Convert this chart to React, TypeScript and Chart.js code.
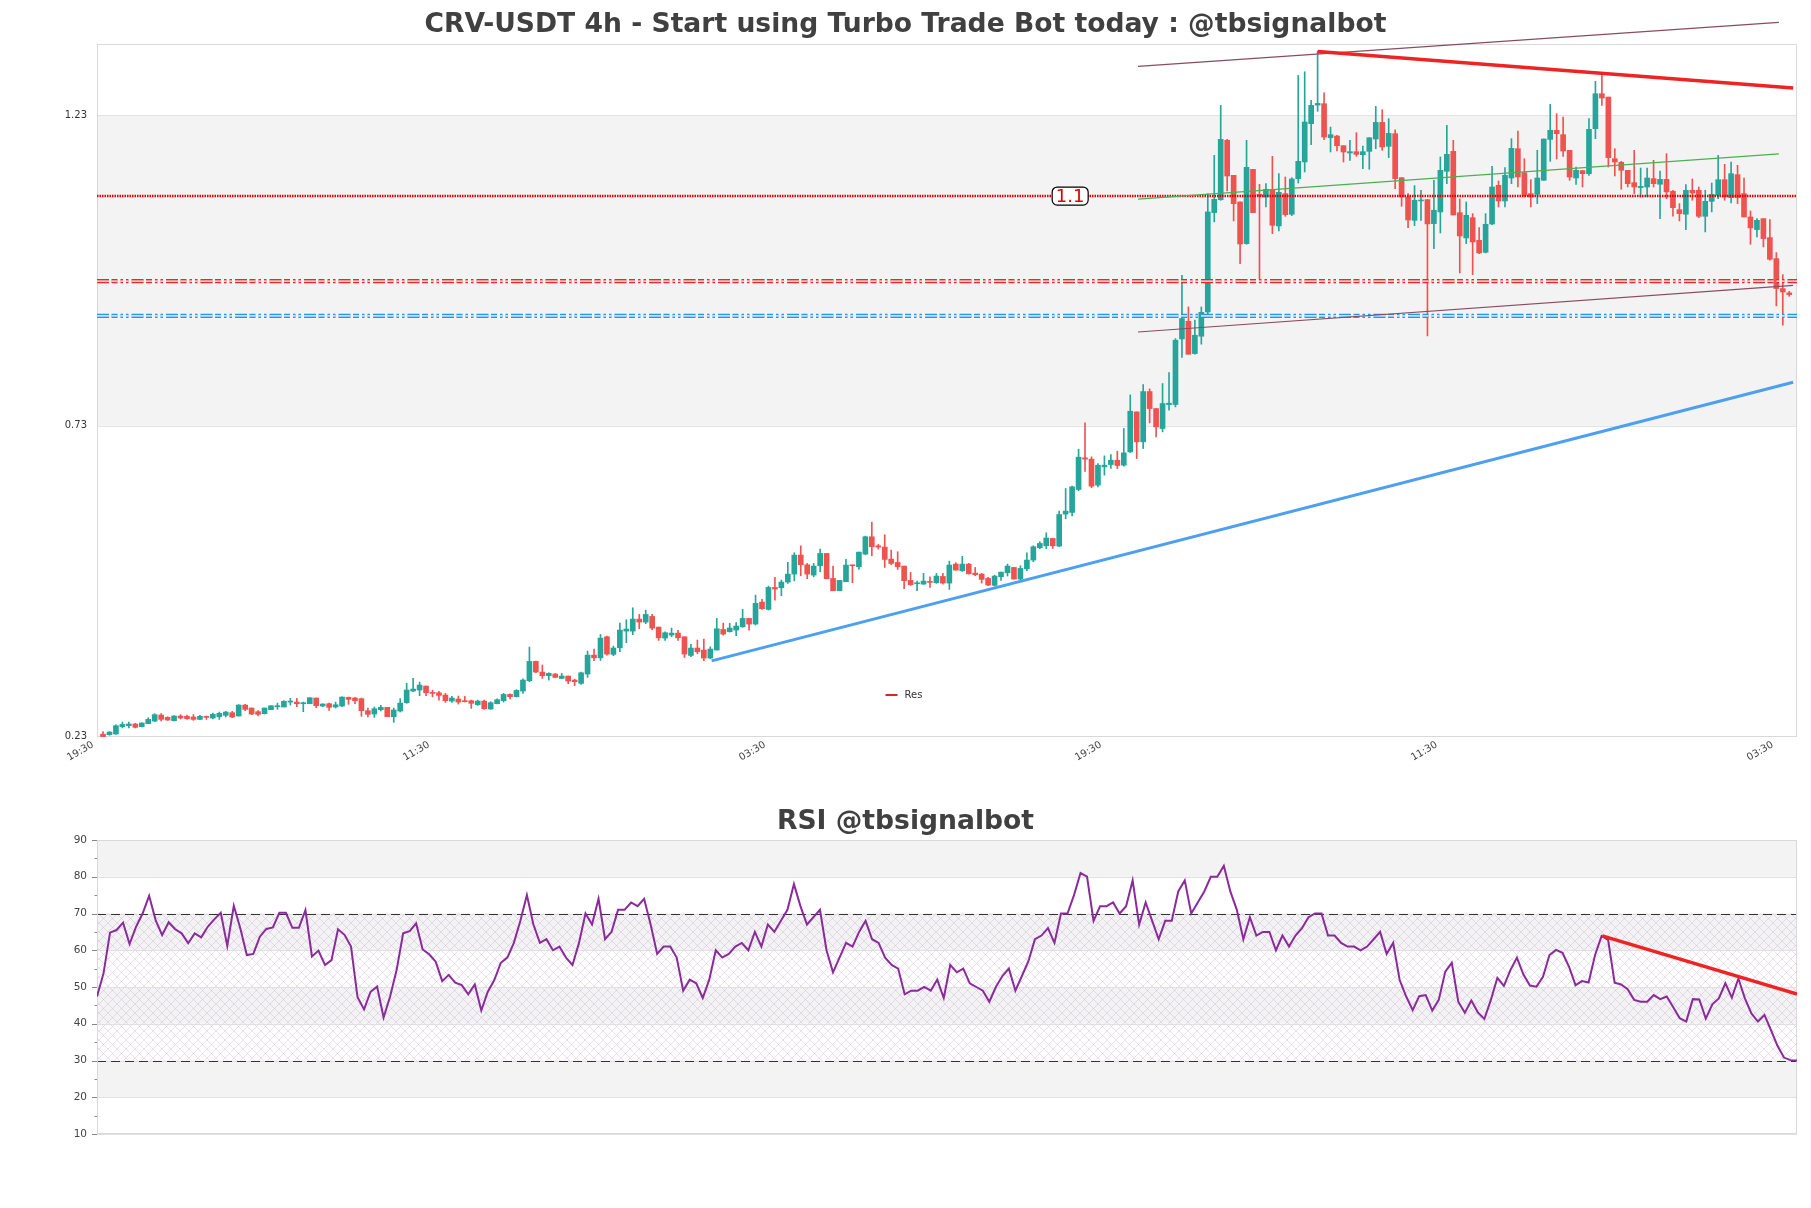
import React, { useEffect, useRef } from 'react';
import { Chart, registerables } from 'chart.js';

Chart.register(...registerables);

const UP = '#26a69a';
const DOWN = '#ef5350';
const FONT = '"DejaVu Sans", sans-serif';

const mainTitle = 'CRV-USDT 4h - Start using Turbo Trade Bot today : @tbsignalbot';
const rsiTitle = 'RSI @tbsignalbot';
const timeLabels = ['19:30', '11:30', '03:30', '19:30', '11:30', '03:30'];
const priceTicks = [0.23, 0.73, 1.23];
const rsiTicks = [10, 20, 30, 40, 50, 60, 70, 80, 90];

const opens = [
  0.233, 0.2322, 0.2332, 0.245, 0.2466, 0.2493, 0.245, 0.2499, 0.2541, 0.2638,
  0.26, 0.2547, 0.2622, 0.2617, 0.2606, 0.2568, 0.2611, 0.259, 0.2611, 0.2633,
  0.2676, 0.2622, 0.2799, 0.2751, 0.2692, 0.266, 0.2724, 0.2772, 0.2767, 0.2847,
  0.2847, 0.282, 0.282, 0.2912, 0.2783, 0.2821, 0.2767, 0.2783, 0.2923, 0.2912,
  0.2901, 0.2708, 0.2654, 0.2724, 0.2762, 0.2611, 0.2702, 0.2837, 0.3025, 0.3041,
  0.3105, 0.3003, 0.2997, 0.296, 0.2863, 0.2896, 0.2869, 0.2869, 0.2804, 0.2863,
  0.2735, 0.2821, 0.2869, 0.297, 0.2933, 0.3024, 0.3191, 0.3502, 0.333, 0.3271,
  0.3298, 0.3228, 0.3266, 0.3201, 0.3148, 0.3298, 0.3604, 0.356, 0.3899, 0.3615,
  0.3722, 0.399, 0.399, 0.4184, 0.4135, 0.4227, 0.4055, 0.3878, 0.3926, 0.3958,
  0.3899, 0.3598, 0.3717, 0.3685, 0.3556, 0.3685, 0.4017, 0.398, 0.4007, 0.4061,
  0.4195, 0.4104, 0.4458, 0.434, 0.4694, 0.4689, 0.478, 0.4909, 0.5215, 0.5059,
  0.4893, 0.5043, 0.5242, 0.4839, 0.464, 0.4785, 0.5054, 0.5027, 0.5231, 0.551,
  0.5365, 0.5344, 0.515, 0.5097, 0.5038, 0.4807, 0.4753, 0.4748, 0.4791, 0.4769,
  0.4871, 0.4764, 0.507, 0.4963, 0.507, 0.4925, 0.4909, 0.4839, 0.4727, 0.4866,
  0.493, 0.5016, 0.4829, 0.4995, 0.5135, 0.5333, 0.5365, 0.5483, 0.536, 0.5875,
  0.5902, 0.6272, 0.6782, 0.6761, 0.6342, 0.6637, 0.6674, 0.6744, 0.6664, 0.6878,
  0.7522, 0.704, 0.785, 0.7576, 0.7254, 0.764, 0.7641, 0.8698, 0.8983, 0.8462,
  0.8741, 0.9132, 1.0733, 1.0942, 1.1898, 1.1334, 1.0905, 1.0234, 1.143, 1.1028,
  1.0985, 1.1104, 1.0518, 1.1039, 1.0706, 1.128, 1.155, 1.2166, 1.2466, 1.2488,
  1.194, 1.1967, 1.1812, 1.1694, 1.1715, 1.1667, 1.172, 1.1919, 1.2187, 1.1801,
  1.2005, 1.1296, 1.0985, 1.0609, 1.0921, 1.0943, 1.0556, 1.0744, 1.1399, 1.172,
  1.0733, 1.0325, 1.0652, 1.0287, 1.0094, 1.055, 1.1173, 1.0921, 1.1291, 1.1763,
  1.1377, 1.1039, 1.1028, 1.1254, 1.1913, 1.2059, 1.1989, 1.1737, 1.1291, 1.141,
  1.1361, 1.2086, 1.2649, 1.2595, 1.1602, 1.1543, 1.1415, 1.1216, 1.1136, 1.1146,
  1.128, 1.119, 1.1269, 1.1077, 1.0781, 1.0706, 1.1093, 1.1093, 1.0674, 1.0915,
  1.1012, 1.1264, 1.0974, 1.1345, 1.1039, 1.0663, 1.0459, 1.0636, 1.033, 0.9992,
  0.9509, 0.944,
];

const closes = [
  0.229, 0.2364, 0.2466, 0.2487, 0.2493, 0.244, 0.2509, 0.2568, 0.2644, 0.2568,
  0.2557, 0.2622, 0.259, 0.2579, 0.2568, 0.2617, 0.2601, 0.2649, 0.2665, 0.2686,
  0.2606, 0.2799, 0.2729, 0.2654, 0.2649, 0.2751, 0.2788, 0.2788, 0.2858, 0.2858,
  0.282, 0.2837, 0.2917, 0.2788, 0.2815, 0.2762, 0.2804, 0.2928, 0.289, 0.2869,
  0.2708, 0.2649, 0.274, 0.2762, 0.2611, 0.2719, 0.2831, 0.3041, 0.3057, 0.3121,
  0.2997, 0.2987, 0.2954, 0.2869, 0.2912, 0.2847, 0.2853, 0.2826, 0.2863, 0.274,
  0.2837, 0.2885, 0.297, 0.2933, 0.3035, 0.3201, 0.3502, 0.333, 0.3271, 0.3309,
  0.3244, 0.3266, 0.3185, 0.3175, 0.3319, 0.3604, 0.356, 0.3878, 0.362, 0.3717,
  0.4007, 0.4023, 0.4184, 0.4135, 0.4259, 0.4039, 0.3883, 0.3964, 0.3958, 0.3883,
  0.362, 0.3717, 0.3658, 0.3556, 0.3701, 0.4028, 0.3942, 0.404, 0.4072, 0.4195,
  0.4104, 0.4437, 0.4351, 0.4694, 0.4668, 0.478, 0.4909, 0.5215, 0.5059, 0.4909,
  0.5038, 0.5242, 0.4834, 0.464, 0.4807, 0.5054, 0.5043, 0.5263, 0.551, 0.5349,
  0.5344, 0.5145, 0.5081, 0.5027, 0.4802, 0.4737, 0.4769, 0.4796, 0.4775, 0.4877,
  0.4764, 0.5054, 0.4973, 0.507, 0.4914, 0.4898, 0.4823, 0.4732, 0.4877, 0.4941,
  0.5038, 0.4829, 0.5, 0.5135, 0.535, 0.5403, 0.549, 0.5365, 0.5869, 0.5923,
  0.6315, 0.6793, 0.6761, 0.6326, 0.6664, 0.6664, 0.6744, 0.6658, 0.6862, 0.7533,
  0.704, 0.785, 0.7576, 0.7281, 0.7657, 0.7662, 0.8677, 0.9026, 0.8451, 0.8757,
  0.9127, 1.0744, 1.0948, 1.1914, 1.1323, 1.0878, 1.0228, 1.1463, 1.0733, 1.1,
  1.1109, 1.0529, 1.106, 1.0701, 1.1275, 1.156, 1.2193, 1.2461, 1.2493, 1.1951,
  1.1989, 1.1812, 1.171, 1.1715, 1.1672, 1.1715, 1.194, 1.2187, 1.179, 1.201,
  1.128, 1.0985, 1.0615, 1.0932, 1.0932, 1.0551, 1.0771, 1.1415, 1.1672, 1.0695,
  1.0357, 1.069, 1.0261, 1.0083, 1.0545, 1.1146, 1.0921, 1.1334, 1.1769, 1.1307,
  1.1012, 1.0985, 1.1291, 1.1919, 1.2059, 1.2005, 1.1726, 1.1307, 1.1415, 1.1361,
  1.2075, 1.2649, 1.2579, 1.1619, 1.1549, 1.1415, 1.12, 1.1146, 1.1157, 1.1291,
  1.12, 1.1269, 1.1066, 1.0813, 1.0717, 1.1093, 1.105, 1.0674, 1.0915, 1.1028,
  1.1264, 1.0985, 1.1361, 1.0974, 1.0663, 1.0486, 1.0609, 1.0314, 0.9981, 0.9509,
  0.9455, 0.9412,
];

const highs = [
  0.237, 0.237, 0.248, 0.2525, 0.2525, 0.2505, 0.2515, 0.2595, 0.266, 0.266,
  0.2611, 0.263, 0.2644, 0.2638, 0.2644, 0.2633, 0.2622, 0.2671, 0.2686, 0.2697,
  0.2697, 0.2805, 0.281, 0.2751, 0.2708, 0.2751, 0.2788, 0.2831, 0.2869, 0.2906,
  0.2906, 0.2847, 0.2917, 0.2912, 0.2821, 0.2831, 0.2847, 0.2933, 0.2928, 0.2923,
  0.2912, 0.2751, 0.2767, 0.2794, 0.2762, 0.2751, 0.2901, 0.3148, 0.3229, 0.317,
  0.3105, 0.304, 0.3019, 0.2987, 0.2938, 0.2944, 0.2938, 0.2879, 0.2879, 0.2879,
  0.2853, 0.2901, 0.2987, 0.2981, 0.3046, 0.3223, 0.3733, 0.3507, 0.3443, 0.332,
  0.3309, 0.3309, 0.3266, 0.3217, 0.333, 0.3668, 0.3701, 0.3937, 0.391, 0.3749,
  0.4119, 0.4173, 0.4366, 0.4259, 0.4329, 0.4259, 0.4055, 0.398, 0.4039, 0.4001,
  0.3899, 0.3776, 0.3846, 0.3862, 0.3738, 0.4194, 0.4119, 0.4115, 0.4126, 0.434,
  0.4195, 0.457, 0.4501, 0.4716, 0.4855, 0.4812, 0.5097, 0.5253, 0.5365, 0.5081,
  0.5081, 0.5312, 0.5242, 0.5038, 0.4807, 0.5145, 0.5054, 0.5263, 0.5521, 0.5746,
  0.5387, 0.5543, 0.5296, 0.5269, 0.5038, 0.4936, 0.4796, 0.492, 0.4866, 0.492,
  0.492, 0.5118, 0.5092, 0.5194, 0.5081, 0.5016, 0.492, 0.4855, 0.4893, 0.4941,
  0.507, 0.5016, 0.5043, 0.5253, 0.5365, 0.543, 0.5575, 0.5483, 0.5923, 0.6288,
  0.6326, 0.6921, 0.7345, 0.6798, 0.6691, 0.6814, 0.6836, 0.6889, 0.7254, 0.7796,
  0.7522, 0.7963, 0.7893, 0.7576, 0.7979, 0.8156, 0.8703, 0.9723, 0.9213, 0.9,
  0.9213, 1.1039, 1.1656, 1.2461, 1.1914, 1.1334, 1.0905, 1.1898, 1.143, 1.1189,
  1.12, 1.164, 1.1361, 1.1307, 1.1297, 1.2944, 1.3003, 1.2542, 1.3331, 1.2665,
  1.2112, 1.1978, 1.1812, 1.1898, 1.2021, 1.1806, 1.194, 1.2445, 1.2391, 1.2247,
  1.2069, 1.1296, 1.1039, 1.1168, 1.1093, 1.0943, 1.1254, 1.163, 1.2139, 1.1898,
  1.0953, 1.0905, 1.0717, 1.0491, 1.0717, 1.1479, 1.1243, 1.1458, 1.1925, 1.2048,
  1.1602, 1.1264, 1.1737, 1.1919, 1.2477, 1.2327, 1.2273, 1.1737, 1.1468, 1.1415,
  1.2247, 1.2848, 1.2971, 1.2595, 1.1763, 1.156, 1.1415, 1.1737, 1.1452, 1.1452,
  1.1576, 1.1404, 1.1683, 1.1093, 1.0878, 1.1184, 1.1275, 1.1146, 1.1093, 1.1211,
  1.1656, 1.1511, 1.1549, 1.1495, 1.1291, 1.076, 1.0636, 1.0636, 1.062, 1.0089,
  0.9734, 0.9466,
];

const lows = [
  0.229, 0.231, 0.2327, 0.243, 0.2429, 0.2429, 0.2445, 0.2499, 0.2531, 0.2542,
  0.2552, 0.2542, 0.2574, 0.2569, 0.2552, 0.2563, 0.2568, 0.2574, 0.2568, 0.2606,
  0.2595, 0.2622, 0.2708, 0.2644, 0.2622, 0.2654, 0.2724, 0.2729, 0.2767, 0.2799,
  0.2772, 0.2692, 0.282, 0.2756, 0.2772, 0.2713, 0.2751, 0.2772, 0.281, 0.2821,
  0.2617, 0.2606, 0.2601, 0.2703, 0.2611, 0.252, 0.2686, 0.2826, 0.3014, 0.2949,
  0.2949, 0.2933, 0.2879, 0.2842, 0.2842, 0.2815, 0.2847, 0.2745, 0.2794, 0.2729,
  0.2729, 0.2815, 0.2847, 0.2896, 0.2928, 0.2987, 0.3175, 0.3319, 0.3228, 0.3201,
  0.3244, 0.3223, 0.3142, 0.311, 0.3132, 0.3244, 0.3513, 0.3518, 0.3604, 0.3593,
  0.3658, 0.3803, 0.3932, 0.4028, 0.4109, 0.4012, 0.384, 0.384, 0.3899, 0.384,
  0.3566, 0.3577, 0.3626, 0.3513, 0.3545, 0.3685, 0.3926, 0.3975, 0.3916, 0.405,
  0.4007, 0.4088, 0.434, 0.4329, 0.449, 0.456, 0.4759, 0.48, 0.4882, 0.4834,
  0.4866, 0.4947, 0.4834, 0.464, 0.464, 0.4785, 0.4769, 0.4984, 0.5221, 0.5204,
  0.5312, 0.5016, 0.5059, 0.4984, 0.4673, 0.4727, 0.4641, 0.4743, 0.4694, 0.4759,
  0.4748, 0.4662, 0.4973, 0.4952, 0.4909, 0.4882, 0.4764, 0.4721, 0.4716, 0.4807,
  0.4877, 0.4829, 0.4813, 0.4963, 0.5108, 0.5317, 0.5317, 0.5322, 0.5349, 0.58,
  0.5848, 0.6251, 0.6562, 0.63, 0.6315, 0.6503, 0.661, 0.661, 0.6648, 0.6867,
  0.6771, 0.6932, 0.7345, 0.712, 0.72, 0.7549, 0.7603, 0.8398, 0.8451, 0.8451,
  0.8613, 0.905, 1.0583, 1.0931, 1.1082, 1.0599, 0.9912, 1.0223, 1.0733, 0.9665,
  1.0824, 1.0395, 1.0438, 1.0674, 1.0685, 1.1211, 1.1388, 1.1828, 1.2365, 1.1908,
  1.171, 1.1726, 1.1549, 1.1576, 1.164, 1.1441, 1.1431, 1.1763, 1.1737, 1.1619,
  1.1119, 1.0835, 1.0491, 1.0524, 1.0609, 0.8747, 1.0153, 1.0405, 1.12, 1.0695,
  0.9761, 1.0234, 0.9734, 1.0073, 1.0083, 1.054, 1.0824, 1.0824, 1.12, 1.1146,
  1.0985, 1.0824, 1.0878, 1.1254, 1.1559, 1.1597, 1.164, 1.1254, 1.1189, 1.1146,
  1.1334, 1.1925, 1.2461, 1.1468, 1.1323, 1.1109, 1.1146, 1.1039, 1.0985, 1.0985,
  1.1146, 1.0636, 1.0958, 1.0674, 1.0599, 1.0459, 1.0932, 1.0652, 1.0422, 1.0744,
  1.0958, 1.0932, 1.0889, 1.0878, 1.0663, 1.0223, 1.034, 1.018, 0.9965, 0.923,
  0.8919, 0.9385,
];

const rsiValues = [
  47.4, 53.7, 64.8, 65.5, 67.5, 61.7, 66.4, 70.0, 74.8, 68.2,
  64.1, 67.6, 65.7, 64.6, 61.9, 64.6, 63.5, 66.4, 68.4, 70.2,
  61.2, 72.1, 66.0, 58.7, 59.0, 63.7, 65.8, 66.2, 70.2, 70.2,
  66.1, 66.1, 70.9, 58.3, 59.9, 56.0, 57.3, 65.7, 64.2, 61.0,
  47.2, 43.9, 48.7, 50.1, 41.7, 47.4, 54.6, 64.6, 65.2, 67.3,
  60.2, 58.9, 56.9, 51.6, 53.3, 51.2, 50.5, 48.0, 50.7, 43.6,
  48.7, 51.9, 56.6, 58, 62, 68, 75, 67, 62, 63,
  60, 61, 58, 56, 62, 70, 67, 74, 63, 65,
  71, 71, 73, 72, 74, 67, 59, 61, 61, 58,
  49, 52, 51, 47, 52, 60, 58, 59, 61, 62,
  60, 65, 61, 67, 65, 68, 71, 78, 72, 67,
  69, 71, 60, 54, 58, 62, 61, 65, 68, 63,
  62, 58, 56, 55, 48, 49, 49, 50, 49, 52,
  47, 56, 54, 55, 51, 50, 49, 46, 50, 53,
  55, 49, 53, 57, 63, 64, 66, 62, 70, 70,
  75, 81, 80, 68, 72, 72, 73, 70, 72, 79,
  67, 73, 68, 63, 68, 68, 76, 79, 70, 73,
  76, 80, 80, 83, 76, 71, 63, 69, 64, 65,
  65, 60, 64, 61, 64, 66, 69, 70, 70, 64,
  64, 62, 61, 61, 60, 61, 63, 65, 59, 62,
  51.9, 47.4, 43.7, 47.5, 47.8, 43.6, 46.5, 54.2, 56.6, 46.0,
  43.0, 46.3, 43.1, 41.3, 46.5, 52.5, 50.3, 54.6, 58.0, 53.4,
  50.4, 50.1, 52.8, 58.7, 60.1, 59.3, 55.5, 50.5, 51.6, 51.2,
  58.7, 63.9, 62.8, 51.2, 50.7, 49.4, 46.5, 46.0, 46.0, 47.8,
  46.7, 47.4, 44.5, 41.5, 40.6, 46.7, 46.6, 41.4, 45.3, 46.9,
  51.0, 47.1, 52.3, 46.9, 42.8, 40.6, 42.4, 38.3, 34.0, 30.8,
  30.1, 30.0,
];

// Horizontal levels (price)
const resLevel = 1.1;
const redLevel = 0.963;
const blueLevel = 0.907;
const resLabelX = 149.7;
const bandLow = 0.73;
const bandHigh = 1.23;

// Trend lines [x (candle index), y (price)]
const channelTop = [{ x: 160.2, y: 1.309 }, { x: 259.4, y: 1.38 }];
const channelBottom = [{ x: 160.2, y: 0.881 }, { x: 261.6, y: 0.956 }];
const channelMid = [{ x: 160.2, y: 1.095 }, { x: 259.4, y: 1.168 }];
const resistanceLine = [{ x: 188, y: 1.333 }, { x: 261.6, y: 1.274 }];
const supportLine = [{ x: 94.2, y: 0.351 }, { x: 261.6, y: 0.8 }];
const rsiTrend = [{ x: 231.1, y: 63.9 }, { x: 261, y: 48.1 }];

const X_MIN = -0.93;
const X_MAX = 262.2;
const Y_MIN = 0.2284;
const Y_MAX = 1.345;

const hollowDash = [12, 2.5, 6, 3, 2.5, 3, 2.5, 3];

function mainConfig(): any {
  const idx = closes.map((_, i) => i);
  const bodies = idx.map((i) => ({ x: i, y: [opens[i], closes[i]] }));
  const wicks = idx.map((i) => ({ x: i, y: [lows[i], highs[i]] }));
  const colors = idx.map((i) => (closes[i] >= opens[i] ? UP : DOWN));
  const lvl = (v: number) => [{ x: X_MIN, y: v }, { x: X_MAX, y: v }];
  const line = (data: any, color: string, width: number, extra: any = {}) => ({
    type: 'line', data, borderColor: color, borderWidth: width, pointRadius: 0,
    fill: false, tension: 0, clip: false, ...extra,
  });

  const plugin = {
    id: 'mainDecor',
    beforeDraw(chart: any) {
      const { ctx, chartArea: a, scales } = chart;
      const y = scales.y;
      ctx.save();
      ctx.fillStyle = '#ffffff';
      ctx.fillRect(0, 0, chart.width, chart.height);
      const yt = y.getPixelForValue(bandHigh);
      const yb = y.getPixelForValue(bandLow);
      ctx.fillStyle = '#f3f3f3';
      ctx.fillRect(a.left, yt, a.right - a.left, yb - yt);
      ctx.strokeStyle = '#e3e3e3';
      ctx.lineWidth = 1;
      ctx.beginPath();
      ctx.moveTo(a.left, Math.round(yt) + 0.5); ctx.lineTo(a.right, Math.round(yt) + 0.5);
      ctx.moveTo(a.left, Math.round(yb) + 0.5); ctx.lineTo(a.right, Math.round(yb) + 0.5);
      ctx.stroke();
      ctx.strokeStyle = '#d9d9d9';
      ctx.strokeRect(a.left + 0.5, a.top + 0.5, a.right - a.left - 1, a.bottom - a.top - 1);
      ctx.restore();
    },
    afterDraw(chart: any) {
      const { ctx, chartArea: a, scales } = chart;
      ctx.save();
      // title
      ctx.font = 'bold 26.6px ' + FONT;
      ctx.fillStyle = '#404040';
      ctx.textAlign = 'center';
      ctx.textBaseline = 'middle';
      ctx.fillText(mainTitle, chart.width / 2, 25);
      // 1.1 label
      const lx = scales.x.getPixelForValue(resLabelX);
      const ly = scales.y.getPixelForValue(resLevel);
      const w = 36, h = 18;
      ctx.beginPath();
      (ctx as any).roundRect(lx - w / 2, ly - h / 2, w, h, 5);
      ctx.fillStyle = '#ffffff';
      ctx.fill();
      ctx.strokeStyle = '#000000';
      ctx.lineWidth = 1.2;
      ctx.stroke();
      ctx.font = '18px ' + FONT;
      ctx.fillStyle = '#e00000';
      ctx.fillText(String(resLevel), lx, ly + 1);
      // legend
      const cx = chart.width / 2;
      const gy = a.bottom - 42;
      ctx.strokeStyle = '#d62728';
      ctx.lineWidth = 2;
      ctx.beginPath();
      ctx.moveTo(cx - 20, gy); ctx.lineTo(cx - 8, gy);
      ctx.stroke();
      ctx.font = '10px ' + FONT;
      ctx.fillStyle = '#333333';
      ctx.textAlign = 'left';
      ctx.fillText('Res', cx - 1, gy);
      ctx.restore();
    },
  };

  return {
    type: 'bar',
    data: {
      datasets: [
        line(resistanceLine, '#ee2424', 3.5),
        line(supportLine, '#4d9ff0', 3),
        line(channelTop, '#8a4c5e', 1.2),
        line(channelBottom, '#8a4c5e', 1.2),
        line(channelMid, '#4caf50', 1.2),
        line(lvl(resLevel), '#e00000', 2.6, { borderDash: [1.5, 1] }),
        line(lvl(redLevel), '#ffffff', 1.3, { borderDash: hollowDash }),
        line(lvl(redLevel), '#e8282b', 4.2, { borderDash: hollowDash }),
        line(lvl(blueLevel), '#ffffff', 1.3, { borderDash: hollowDash }),
        line(lvl(blueLevel), '#2196f3', 4.2, { borderDash: hollowDash }),
        {
          type: 'bar', data: bodies, backgroundColor: colors, borderWidth: 0,
          barThickness: 5, grouped: false, minBarLength: 1,
        },
        {
          type: 'bar', data: wicks, backgroundColor: colors, borderWidth: 0,
          barThickness: 1, grouped: false, minBarLength: 1,
        },
      ],
    },
    options: {
      responsive: false,
      animation: false,
      devicePixelRatio: 1,
      layout: { padding: { left: 0, top: 44, right: 14, bottom: 0 } },
      plugins: { legend: { display: false }, tooltip: { enabled: false }, title: { display: false } },
      scales: {
        x: {
          type: 'linear', min: X_MIN, max: X_MAX, offset: false,
          afterBuildTicks: (ax: any) => { ax.ticks = timeLabels.map((_, k) => ({ value: X_MIN + 52 * k })); },
          afterFit: (ax: any) => { ax.height = 33; },
          ticks: {
            autoSkip: false, minRotation: 30, maxRotation: 30, padding: 2, labelOffset: -4,
            font: { size: 10, family: FONT }, color: '#444444',
            callback: (_v: any, i: number) => timeLabels[i],
          },
          grid: { display: false, drawTicks: false },
          border: { display: false },
        },
        y: {
          type: 'linear', min: Y_MIN, max: Y_MAX,
          afterBuildTicks: (ax: any) => { ax.ticks = priceTicks.map((v) => ({ value: v })); },
          afterFit: (ax: any) => { ax.width = 97; },
          ticks: {
            padding: 10, font: { size: 10, family: FONT }, color: '#333333',
            callback: (v: any) => Number(v).toFixed(2),
          },
          grid: { display: false, drawTicks: false },
          border: { display: false },
        },
      },
    },
    plugins: [plugin],
  };
}

function rsiConfig(): any {
  const pts = rsiValues.map((v, j) => ({ x: j, y: v }));
  const plugin = {
    id: 'rsiDecor',
    beforeDraw(chart: any) {
      const { ctx, chartArea: a, scales } = chart;
      const y = scales.y;
      const L = a.left, R = a.right, W = R - L;
      ctx.save();
      ctx.fillStyle = '#ffffff';
      ctx.fillRect(0, 0, chart.width, chart.height);
      const grey = [[80, 90], [60, 70], [40, 50], [20, 30]];
      ctx.fillStyle = '#f3f3f3';
      grey.forEach(([lo, hi]) => {
        const t = y.getPixelForValue(hi), b = y.getPixelForValue(lo);
        ctx.fillRect(L, t, W, b - t);
      });
      // hatch 30-70
      const pc = document.createElement('canvas');
      pc.width = 9; pc.height = 9;
      const p = pc.getContext('2d')!;
      p.strokeStyle = 'rgba(185,160,205,0.45)';
      p.lineWidth = 0.7;
      p.beginPath();
      p.moveTo(0, 0); p.lineTo(9, 9);
      p.moveTo(9, 0); p.lineTo(0, 9);
      p.stroke();
      const pat = ctx.createPattern(pc, 'repeat');
      const t70 = y.getPixelForValue(70), b30 = y.getPixelForValue(30);
      ctx.fillStyle = pat;
      ctx.fillRect(L, t70, W, b30 - t70);
      // grid lines
      ctx.strokeStyle = '#e0e0e0';
      ctx.lineWidth = 1;
      ctx.beginPath();
      rsiTicks.forEach((v) => {
        const py = Math.round(y.getPixelForValue(v)) + 0.5;
        ctx.moveTo(L, py); ctx.lineTo(R, py);
      });
      ctx.stroke();
      // dashed 70 / 30
      ctx.strokeStyle = '#333333';
      ctx.setLineDash([9, 5]);
      ctx.beginPath();
      [70, 30].forEach((v) => {
        const py = Math.round(y.getPixelForValue(v)) + 0.5;
        ctx.moveTo(L, py); ctx.lineTo(R, py);
      });
      ctx.stroke();
      ctx.setLineDash([]);
      // border
      ctx.strokeStyle = '#d9d9d9';
      ctx.strokeRect(L + 0.5, a.top + 0.5, W - 1, a.bottom - a.top - 1);
      // tick marks
      ctx.strokeStyle = '#888888';
      ctx.beginPath();
      rsiTicks.forEach((v, k) => {
        const py = Math.round(y.getPixelForValue(v)) + 0.5;
        ctx.moveTo(L - 5, py); ctx.lineTo(L, py);
        if (k < rsiTicks.length - 1) {
          const my = Math.round(y.getPixelForValue(v + 5)) + 0.5;
          ctx.moveTo(L - 2.5, my); ctx.lineTo(L, my);
        }
      });
      ctx.stroke();
      ctx.restore();
    },
    afterDraw(chart: any) {
      const { ctx } = chart;
      ctx.save();
      ctx.font = 'bold 26.6px ' + FONT;
      ctx.fillStyle = '#404040';
      ctx.textAlign = 'center';
      ctx.textBaseline = 'middle';
      ctx.fillText(rsiTitle, chart.width / 2, 52);
      ctx.restore();
    },
  };

  return {
    type: 'line',
    data: {
      datasets: [
        {
          data: rsiTrend, borderColor: '#ee2424', borderWidth: 3.5, pointRadius: 0, tension: 0,
        },
        {
          data: pts, borderColor: '#8b2a9b', borderWidth: 2, pointRadius: 0, tension: 0,
        },
      ],
    },
    options: {
      responsive: false,
      animation: false,
      devicePixelRatio: 1,
      layout: { padding: { left: 0, top: 70, right: 14, bottom: 74 } },
      plugins: { legend: { display: false }, tooltip: { enabled: false } },
      scales: {
        x: { type: 'linear', min: 0, max: rsiValues.length - 1, display: false },
        y: {
          type: 'linear', min: 10, max: 90,
          afterBuildTicks: (ax: any) => { ax.ticks = rsiTicks.map((v) => ({ value: v })); },
          afterFit: (ax: any) => { ax.width = 97; },
          ticks: { padding: 10, font: { size: 10.5, family: FONT }, color: '#444444' },
          grid: { display: false, drawTicks: false },
          border: { display: false },
        },
      },
    },
    plugins: [plugin],
  };
}

export default function App() {
  const mainRef = useRef<HTMLCanvasElement>(null);
  const rsiRef = useRef<HTMLCanvasElement>(null);
  useEffect(() => {
    Chart.defaults.font.family = FONT;
    const c1 = new Chart(mainRef.current as HTMLCanvasElement, mainConfig());
    const c2 = new Chart(rsiRef.current as HTMLCanvasElement, rsiConfig());
    return () => { c1.destroy(); c2.destroy(); };
  }, []);
  return (
    <div style={{ position: 'absolute', left: 0, top: 0, width: 1811, height: 1208, background: '#ffffff' }}>
      <canvas ref={mainRef} width={1811} height={770}
        style={{ position: 'absolute', left: 0, top: 0, width: 1811, height: 770 }} />
      <canvas ref={rsiRef} width={1811} height={438}
        style={{ position: 'absolute', left: 0, top: 770, width: 1811, height: 438 }} />
    </div>
  );
}
